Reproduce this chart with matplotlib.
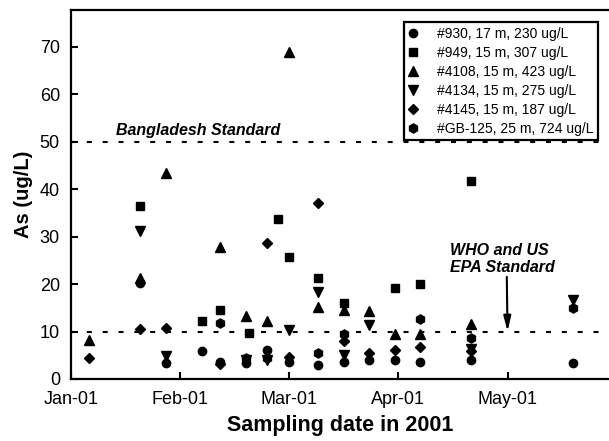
import matplotlib
matplotlib.use("Agg")
import matplotlib.pyplot as plt

plt.rcParams['font.family'] = ['Liberation Sans', 'DejaVu Sans']

# days counted from Jan-01 (axis ticks every 30 days)
tick_days = [0, 30, 60, 90, 120]
tick_labels = ["Jan-01", "Feb-01", "Mar-01", "Apr-01", "May-01"]

# well #930
d930 = [19, 26, 36, 41, 48, 54, 60, 68, 75, 82, 89, 96, 110, 138]
as930 = [20.2, 3.4, 5.9, 3.6, 3.3, 6.1, 3.6, 2.9, 3.6, 4.0, 3.9, 3.6, 4.1, 3.3]

# well #949
d949 = [19, 36, 41, 49, 57, 60, 68, 75, 89, 96, 110]
as949 = [36.4, 12.3, 14.5, 9.6, 33.6, 25.7, 21.2, 16.0, 19.1, 20.1, 41.7]

# well #4108
d4108 = [5, 19, 26, 41, 48, 54, 60, 68, 75, 82, 89, 96, 110]
as4108 = [8.2, 21.3, 43.3, 27.7, 13.3, 12.3, 68.8, 15.2, 14.6, 14.3, 9.5, 9.5, 11.6]

# well #4134
d4134 = [19, 26, 48, 54, 60, 68, 75, 82, 110, 138]
as4134 = [31.2, 4.9, 3.9, 4.0, 10.3, 18.4, 5.0, 11.4, 6.3, 16.6]

# well #4145
d4145 = [5, 19, 26, 41, 54, 60, 68, 75, 82, 89, 96, 110]
as4145 = [4.5, 10.5, 10.7, 3.1, 28.6, 4.7, 37.0, 7.9, 5.5, 6.1, 6.8, 5.8]

# well #GB-125
dgb = [41, 48, 54, 68, 75, 96, 110, 138]
asgb = [11.7, 4.4, 4.5, 5.5, 9.4, 12.6, 8.6, 14.9]

series = [
    (d930, as930, "o", 6.0, "#930, 17 m, 230 ug/L"),
    (d949, as949, "s", 5.3, "#949, 15 m, 307 ug/L"),
    (d4108, as4108, "^", 6.7, "#4108, 15 m, 423 ug/L"),
    (d4134, as4134, "v", 6.7, "#4134, 15 m, 275 ug/L"),
    (d4145, as4145, "D", 5.2, "#4145, 15 m, 187 ug/L"),
    (dgb, asgb, "h", 6.6, "#GB-125, 25 m, 724 ug/L"),
]

fig = plt.figure(figsize=(6.09, 4.41), dpi=100)
ax = fig.add_axes([0.1166, 0.1406, 0.8834, 0.8367])

dots = (0, (2.4, 5.2))
ax.axhline(10, color="black", lw=1.5, linestyle=dots, zorder=1)
ax.axhline(50, color="black", lw=1.5, linestyle=dots, zorder=1)

for days, vals, mk, ms, lab in series:
    ax.plot(days, vals, linestyle="none", marker=mk, markersize=ms,
            color="black", label=lab, zorder=3)

ax.set_xlim(0, 147.9)
ax.set_ylim(0, 77.7)
ax.set_xticks(tick_days)
ax.set_xticklabels(tick_labels)
ax.set_yticks(range(0, 80, 10))

for side in ["left", "bottom", "top"]:
    ax.spines[side].set_linewidth(1.6)
ax.spines["right"].set_visible(False)
ax.tick_params(direction="in", length=5, width=1.5, labelsize=13)
ax.tick_params(axis="y", pad=8)
ax.tick_params(axis="x", pad=9)

ax.set_ylabel("As (ug/L)", fontsize=14.5, fontweight="bold", labelpad=5)
ax.set_xlabel("Sampling date in 2001", fontsize=15.5, fontweight="bold", labelpad=5)

ax.text(12.4, 51.4, "Bangladesh Standard", fontsize=11.5, fontweight="bold",
        fontstyle="italic", va="baseline", ha="left")
ax.text(104.2, 28.6, "WHO and US\nEPA Standard", fontsize=11.5, fontweight="bold",
        fontstyle="italic", va="top", ha="left", linespacing=1.15)
ax.annotate("", xy=(120, 10), xytext=(119.8, 21.5),
            arrowprops=dict(arrowstyle="-|>,head_length=0.9,head_width=0.22",
                            color="black", lw=1.5, shrinkA=0, shrinkB=0))

leg = ax.legend(loc="upper right", bbox_to_anchor=(598 / 609, 1 - 21.7 / 441),
                bbox_transform=fig.transFigure, fontsize=10, frameon=True,
                fancybox=False, edgecolor="black", borderpad=0.35,
                labelspacing=0.36, handlelength=0.6, handletextpad=1.4,
                borderaxespad=0)
leg.get_frame().set_linewidth(1.6)
leg.get_frame().set_alpha(1)

fig.savefig("out.png", dpi=100)
